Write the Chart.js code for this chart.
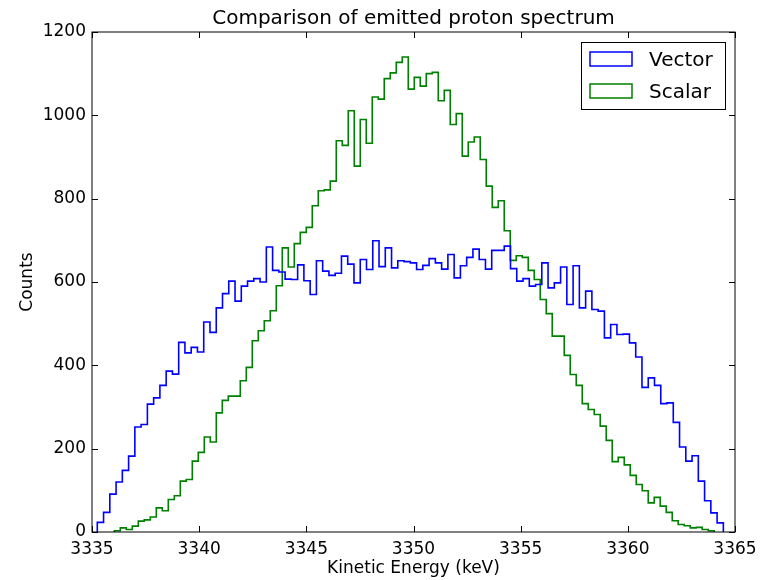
<!DOCTYPE html>
<html>
<head>
<meta charset="utf-8">
<script src="https://cdn.jsdelivr.net/npm/chart.js@4/dist/chart.umd.min.js"></script>
<style>
html,body{margin:0;padding:0;background:#fff;}
#wrap{width:769px;height:580px;}
</style>
</head>
<body>
<div id="wrap"><canvas id="c" width="769" height="580"></canvas></div>
<script>
const chartTitle = 'Comparison of emitted proton spectrum';
const xAxisLabel = 'Kinetic Energy (keV)';
const yAxisLabel = 'Counts';
const seriesNames = ['Vector', 'Scalar'];
const xTickValues = [3335, 3340, 3345, 3350, 3355, 3360, 3365];
const yTickValues = [0, 200, 400, 600, 800, 1000, 1200];

// histogram bins: first edge (keV), bin width (keV), counts per bin
const vectorFirstEdge = 3335.247;
const vectorBinWidth = 0.2921;
const vectorCounts = [
  23, 47, 91, 120, 148, 182, 252, 258, 307, 322,
  352, 386, 379, 455, 430, 443, 432, 504, 479, 538,
  572, 602, 554, 590, 602, 608, 600, 684, 628, 624,
  607, 606, 641, 603, 570, 651, 626, 616, 621, 662,
  643, 598, 654, 630, 699, 637, 682, 634, 651, 649,
  646, 630, 640, 656, 646, 631, 666, 610, 639, 659,
  679, 654, 631, 676, 676, 686, 632, 602, 608, 590,
  594, 646, 586, 598, 636, 546, 639, 538, 578, 534,
  530, 466, 498, 474, 475, 454, 420, 347, 370, 352,
  308, 310, 263, 204, 170, 183, 122, 75, 46, 22
];

const scalarFirstEdge = 3336.04;
const scalarBinWidth = 0.2799;
const scalarCounts = [
  3, 10, 6, 14, 26, 29, 36, 58, 51, 78,
  87, 122, 126, 170, 191, 228, 216, 286, 316, 326,
  326, 363, 395, 459, 483, 507, 531, 591, 682, 636,
  692, 719, 731, 783, 819, 821, 842, 939, 928, 1011,
  878, 990, 933, 1044, 1039, 1088, 1102, 1127, 1140, 1063,
  1091, 1070, 1100, 1103, 1035, 1060, 978, 1004, 902, 936,
  948, 894, 830, 779, 795, 723, 652, 663, 659, 628,
  606, 558, 524, 470, 470, 424, 378, 352, 308, 294,
  282, 254, 220, 169, 179, 161, 136, 114, 99, 70,
  83, 62, 47, 27, 18, 15, 10, 11, 6, 3
];

function stepPoints(firstEdge, width, counts) {
  const pts = [{x: firstEdge, y: 0}];
  counts.forEach((c, i) => pts.push({x: firstEdge + i * width, y: c}));
  pts.push({x: firstEdge + counts.length * width, y: 0});
  return pts;
}

const FONT = 'DejaVu Sans';

const framePlugin = {
  id: 'mplFrame',
  afterLayout(chart) {
    const tb = chart.titleBlock;
    if (tb) {
      tb.left = chart.chartArea.left;
      tb.right = chart.chartArea.right;
      tb.width = tb.right - tb.left;
    }
  },
  afterDraw(chart) {
    const {ctx, chartArea: a, scales: {x, y}} = chart;
    ctx.save();
    ctx.strokeStyle = '#000';
    ctx.lineWidth = 1;
    const tl = 6;
    ctx.beginPath();
    x.ticks.forEach(t => {
      const px = Math.round(x.getPixelForValue(t.value)) + 0.5;
      ctx.moveTo(px, a.bottom); ctx.lineTo(px, a.bottom - tl);
      ctx.moveTo(px, a.top); ctx.lineTo(px, a.top + tl);
    });
    y.ticks.forEach(t => {
      const py = Math.round(y.getPixelForValue(t.value)) + 0.5;
      ctx.moveTo(a.left, py); ctx.lineTo(a.left + tl, py);
      ctx.moveTo(a.right, py); ctx.lineTo(a.right - tl, py);
    });
    ctx.stroke();
    ctx.strokeRect(a.left, a.top, a.right - a.left, a.bottom - a.top);

    // legend (matplotlib style, upper right)
    const bw = 144, bh = 67;
    const bx = a.right - 10 - bw, by = a.top + 10;
    ctx.fillStyle = '#fff';
    ctx.fillRect(bx, by, bw, bh);
    ctx.strokeStyle = '#000';
    ctx.lineWidth = 1;
    ctx.strokeRect(Math.round(bx) + 0.5, Math.round(by) + 0.5, bw, bh);
    ctx.font = '20px "' + FONT + '"';
    ctx.textBaseline = 'middle';
    ctx.textAlign = 'left';
    chart.data.datasets.forEach((ds, i) => {
      const rowY = by + 17 + i * 32;
      ctx.strokeStyle = ds.borderColor;
      ctx.lineWidth = 1.5;
      ctx.strokeRect(bx + 9, rowY - 7, 42, 14);
      ctx.fillStyle = '#000';
      ctx.fillText(ds.label, bx + 68, rowY + 2);
    });
    ctx.restore();
  }
};

Chart.defaults.color = '#000';
Chart.defaults.font.family = FONT;

new Chart(document.getElementById('c'), {
  type: 'line',
  data: {
    datasets: [
      {
        label: seriesNames[0],
        data: stepPoints(vectorFirstEdge, vectorBinWidth, vectorCounts),
        borderColor: '#0000ff',
        borderWidth: 1.6,
        stepped: true,
        pointRadius: 0,
        fill: false
      },
      {
        label: seriesNames[1],
        data: stepPoints(scalarFirstEdge, scalarBinWidth, scalarCounts),
        borderColor: '#008000',
        borderWidth: 1.6,
        stepped: true,
        pointRadius: 0,
        fill: false
      }
    ]
  },
  options: {
    responsive: false,
    animation: false,
    layout: {padding: {left: 0, right: 34, top: 0, bottom: 0}},
    plugins: {
      legend: {display: false},
      tooltip: {enabled: false},
      title: {
        display: true,
        text: chartTitle,
        font: {size: 20, weight: 'normal', family: FONT},
        color: '#000',
        padding: {top: 7, bottom: 1}
      }
    },
    scales: {
      x: {
        type: 'linear',
        min: xTickValues[0],
        max: xTickValues[xTickValues.length - 1],
        afterBuildTicks: s => { s.ticks = xTickValues.map(v => ({value: v})); },
        afterFit: s => { s.height = 48; },
        grid: {display: false, drawTicks: false, tickLength: 0},
        border: {display: false},
        ticks: {
          font: {size: 17, family: FONT},
          color: '#000',
          padding: 7,
          maxRotation: 0,
          autoSkip: false,
          callback: v => String(v)
        },
        title: {
          display: true,
          text: xAxisLabel,
          font: {size: 17, family: FONT},
          color: '#000',
          padding: {top: 0, bottom: 1}
        }
      },
      y: {
        type: 'linear',
        min: yTickValues[0],
        max: yTickValues[yTickValues.length - 1],
        afterBuildTicks: s => { s.ticks = yTickValues.map(v => ({value: v})); },
        afterFit: s => { s.width = 92; },
        grid: {display: false, drawTicks: false, tickLength: 0},
        border: {display: false},
        ticks: {
          font: {size: 17, family: FONT},
          color: '#000',
          padding: 6,
          autoSkip: false,
          callback: v => String(v)
        },
        title: {
          display: true,
          text: yAxisLabel,
          font: {size: 17, family: FONT},
          color: '#000',
          padding: {top: 17, bottom: 0}
        }
      }
    }
  },
  plugins: [framePlugin]
});
</script>
</body>
</html>
